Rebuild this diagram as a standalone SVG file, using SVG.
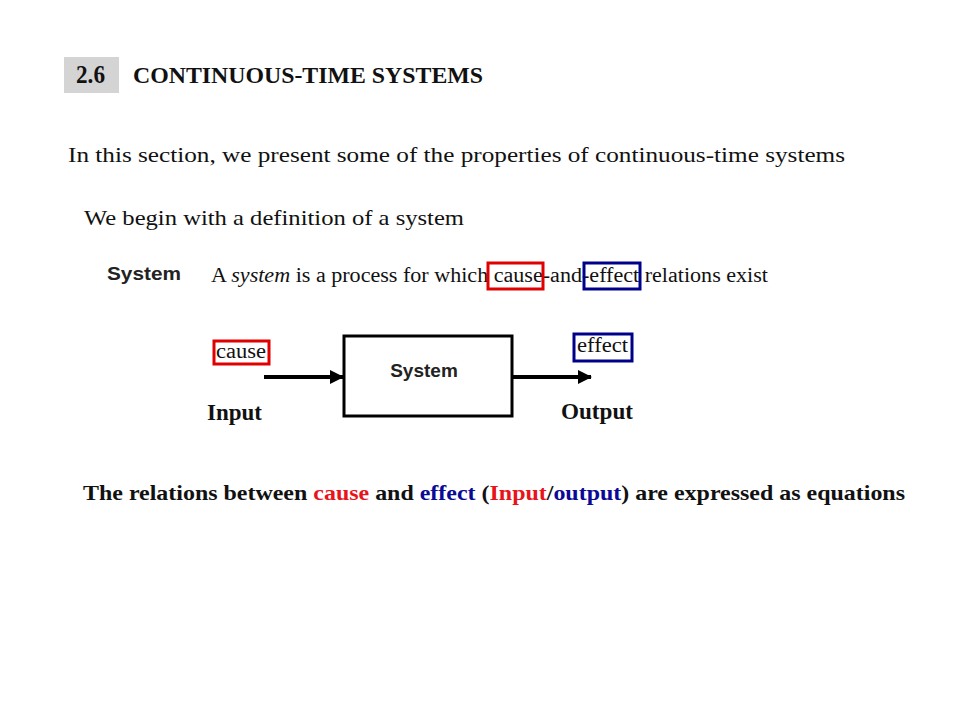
<svg xmlns="http://www.w3.org/2000/svg" width="960" height="720" viewBox="0 0 960 720">
<style>
.serif{font-family:"Liberation Serif","Times New Roman",serif;fill:#111}
.sans{font-family:"Liberation Sans",Arial,sans-serif;font-weight:bold;fill:#222}
.b{font-weight:bold}
.red{fill:#e8141c}
.blue{fill:#0a0a96}
.rbox{fill:none;stroke:#e00000;stroke-width:3}
.bbox{fill:none;stroke:#000088;stroke-width:3}
.conn{stroke:#000;stroke-width:4;fill:none}
</style>
<defs>
<marker id="arr" markerWidth="14" markerHeight="14" refX="13" refY="7" orient="auto" markerUnits="userSpaceOnUse">
<path d="M0,0 L14,7 L0,14 Z" fill="#000"/>
</marker>
</defs>
<rect width="960" height="720" fill="#fff"/>
<g id="header">
<rect x="64" y="57" width="55" height="36" fill="#d4d4d4"/>
<text class="serif b" x="76" y="83" font-size="25" textLength="29" lengthAdjust="spacingAndGlyphs">2.6</text>
<text class="serif b" x="133" y="83" font-size="24" textLength="350" lengthAdjust="spacingAndGlyphs">CONTINUOUS-TIME SYSTEMS</text>
</g>
<g id="intro">
<text class="serif" x="68" y="162" font-size="21" textLength="777" lengthAdjust="spacingAndGlyphs">In this section, we present some of the properties of continuous-time systems</text>
<text class="serif" x="84" y="225" font-size="21" textLength="380" lengthAdjust="spacingAndGlyphs">We begin with a definition of a system</text>
</g>
<g id="definition">
<text class="sans" x="107" y="280" font-size="18" textLength="74" lengthAdjust="spacingAndGlyphs">System</text>
<text class="serif" x="211" y="282" font-size="20" textLength="557" lengthAdjust="spacingAndGlyphs">A <tspan font-style="italic">system</tspan> is a process for which cause-and-effect relations exist</text>
<rect class="rbox" x="488" y="263" width="55" height="26"/>
<rect class="bbox" x="584" y="263" width="56" height="26"/>
</g>
<g id="system-node">
<rect x="344" y="336" width="168" height="80" fill="#fff" stroke="#000" stroke-width="3"/>
<text class="sans" x="424" y="377" font-size="19" text-anchor="middle">System</text>
</g>
<g id="input-node">
<rect class="rbox" x="214" y="341" width="55" height="23"/>
<text class="serif" x="216" y="358" font-size="20" fill="#222" textLength="50" lengthAdjust="spacingAndGlyphs">cause</text>
<text class="serif b" x="207" y="420" font-size="23" textLength="55" lengthAdjust="spacingAndGlyphs">Input</text>
</g>
<g id="output-node">
<rect class="bbox" x="574" y="334" width="58" height="27"/>
<text class="serif" x="577" y="352" font-size="20" fill="#222" textLength="51" lengthAdjust="spacingAndGlyphs">effect</text>
<text class="serif b" x="561" y="419" font-size="23" textLength="72" lengthAdjust="spacingAndGlyphs">Output</text>
</g>
<g id="connectors">
<line class="conn" x1="264" y1="377" x2="343" y2="377" marker-end="url(#arr)"/>
<line class="conn" x1="513" y1="377" x2="591" y2="377" marker-end="url(#arr)"/>
</g>
<g id="summary">
<text class="serif b" x="83" y="500" font-size="22" textLength="822" lengthAdjust="spacingAndGlyphs">The relations between <tspan class="red">cause</tspan> and <tspan class="blue">effect</tspan> (<tspan class="red">Input</tspan>/<tspan class="blue">output</tspan>) are expressed as equations</text>
</g>
</svg>
